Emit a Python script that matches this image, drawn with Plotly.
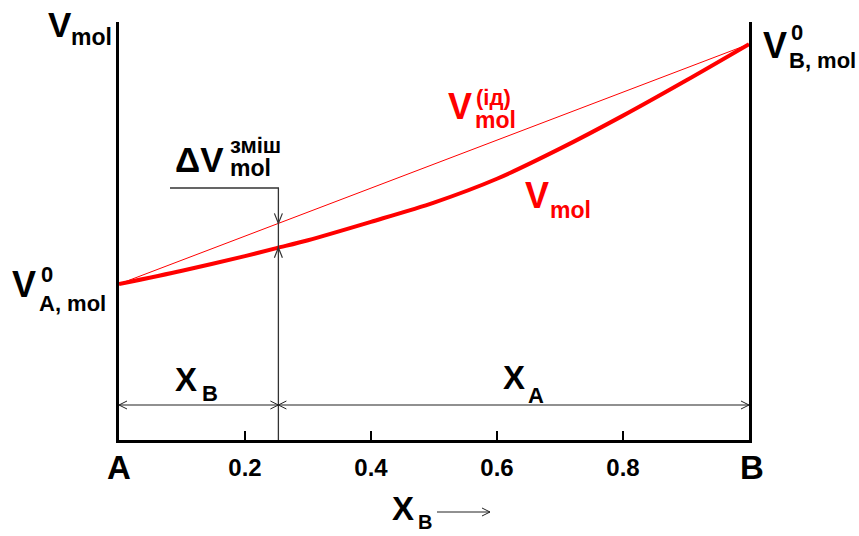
import numpy as np
import plotly.graph_objects as go

# ---- data ----
x_real = [0.0, 0.1, 0.2, 0.25, 0.3, 0.4, 0.5, 0.6, 0.7, 0.8, 0.9, 1.0]
v_real = [3.73, 4.05, 4.40, 4.59, 4.78, 5.22, 5.68, 6.25, 6.97, 7.76, 8.60, 9.47]
x_ideal = [0.0, 1.0]
v_ideal = [3.73, 9.47]
tick_vals = [0.2, 0.4, 0.6, 0.8]
tick_text = ["0.2", "0.4", "0.6", "0.8"]
x_mark = 0.253

FONT = "Liberation Sans, Arial, sans-serif"
W, H = 859, 536
L, R, T, B = 119, 110, 22, 96
PW, PH = W - L - R, H - T - B
YMAX = 10.0


def pp(px, py):
    """pixel -> paper coordinates"""
    return (px - L) / PW, (T + PH - py) / PH


def dx2px(x):
    return L + x * PW


def dy2px(y):
    return T + PH - y / YMAX * PH


fig = go.Figure()
fig.add_trace(go.Scatter(x=x_ideal, y=v_ideal, mode="lines",
                         line=dict(color="#ff0000", width=1), hoverinfo="skip"))
fig.add_trace(go.Scatter(x=x_real, y=v_real, mode="lines",
                         line=dict(color="#ff0000", width=4, shape="spline",
                                   smoothing=0.8),
                         hoverinfo="skip"))

shapes = []


def pline(pts, color="#222", width=1.2):
    path = "M " + " L ".join("%f,%f" % pp(a, b) for a, b in pts)
    shapes.append(dict(type="path", path=path, xref="paper", yref="paper",
                       line=dict(color=color, width=width)))


# bracket for ΔV
xm = dx2px(x_mark)
y_id = float(np.interp(x_mark, x_ideal, v_ideal))
y_re = float(np.interp(x_mark, x_real, v_real))
py_id, py_re = dy2px(y_id), dy2px(y_re)
pline([(170, 188), (xm, 188), (xm, T + PH)], color="#333", width=1.3)
pline([(xm - 4, py_id - 10), (xm, py_id), (xm + 4, py_id - 10)], color="#333", width=1.2)
pline([(xm - 4, py_re + 10), (xm, py_re), (xm + 4, py_re + 10)], color="#333", width=1.2)

# horizontal double arrows
ya = 405
x0p, x1p = dx2px(0), dx2px(1)
pline([(x0p, ya), (x1p, ya)], color="#222", width=1.2)
for tip, d in [(x0p, 1), (xm, -1), (xm, 1), (x1p, -1)]:
    pline([(tip + d * 8, ya - 4), (tip, ya), (tip + d * 8, ya + 4)], color="#222", width=1)

# arrow after X_B
pline([(437, 512), (490, 512)], color="#222", width=1)
pline([(482, 508), (490, 512), (482, 516)], color="#222", width=1)

fig.update_layout(shapes=shapes)


def txt(s, left, cy, size, color="black"):
    x, y = pp(left, cy)
    fig.add_annotation(x=x, y=y, xref="paper", yref="paper", xanchor="left",
                       yanchor="middle", showarrow=False, text="<b>%s</b>" % s,
                       font=dict(family=FONT, size=size, color=color),
                       borderpad=0)


# axis title top-left
txt("V", 47, 25, 35)
txt("mol", 70, 37, 23)
# V0 A,mol
txt("V", 11, 284, 36)
txt("0", 40, 274, 22)
txt("A, mol", 38, 303, 22)
# V0 B,mol
txt("V", 762, 45, 36)
txt("0", 790, 32, 22)
txt("B, mol", 788, 61, 22)
# ideal label
txt("V", 447, 106, 36, "#ff0000")
txt("(ід)", 475, 97, 22, "#ff0000")
txt("mol", 474, 120, 23, "#ff0000")
# real label
txt("V", 524, 196, 36, "#ff0000")
txt("mol", 549, 210, 23, "#ff0000")
# ΔV mixing
txt("ΔV", 174, 160, 35)
txt("зміш", 229, 145, 22)
txt("mol", 229, 168, 23)
# X_B, X_A
txt("X", 174, 379, 33)
txt("B", 201, 393, 22)
txt("X", 502, 377, 33)
txt("A", 527, 395, 22)
# A, B, X_B
txt("A", 106, 468, 33)
txt("B", 739, 468, 33)
txt("X", 391, 508, 33)
txt("B", 417, 522, 20)

fig.update_layout(
    width=W, height=H,
    margin=dict(l=L, r=R, t=T, b=B, pad=0),
    paper_bgcolor="white", plot_bgcolor="white",
    showlegend=False,
    xaxis=dict(range=[0, 1], showgrid=False, zeroline=False, showline=True,
               linecolor="black", linewidth=3, ticks="inside", ticklen=9,
               tickwidth=2, tickcolor="black", tickvals=tick_vals,
               ticktext=tick_text,
               tickfont=dict(family=FONT, size=24, color="black", weight="bold"),
               ticklabelstandoff=4, fixedrange=True),
    yaxis=dict(range=[0, YMAX], showgrid=False, zeroline=False, showline=True,
               mirror=True, linecolor="black", linewidth=3, ticks="",
               showticklabels=False, fixedrange=True),
)

fig.write_html("out.html", config={"displayModeBar": False},
               post_script="document.body.style.margin='0px';document.body.style.overflow='hidden';")
